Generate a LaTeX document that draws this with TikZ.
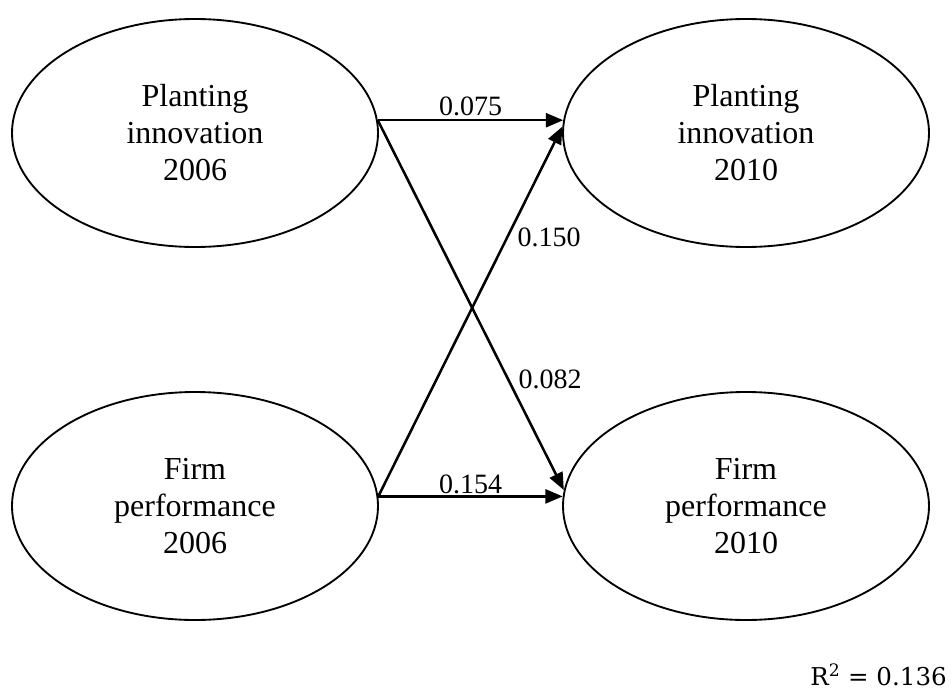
\documentclass[tikz,border=0pt]{standalone}
\usepackage{fontspec}
\setmainfont{Liberation Serif}
\newfontfamily\rsqfont{DejaVu Serif}
\usetikzlibrary{shapes.geometric,arrows.meta}

\begin{document}
\begin{tikzpicture}[x=0.75pt,y=-0.75pt,
    latent/.style={ellipse,draw,line width=1.4pt,minimum width=274.5pt,minimum height=171pt,
        inner sep=0pt,align=center,font=\fontsize{24}{27.75}\selectfont},
    effect/.style={line width=1.9pt,-{Triangle[length=13pt,width=10.5pt]}},
    coef/.style={font=\fontsize{21}{24}\selectfont,inner sep=2pt}]
    \useasboundingbox (0,0) rectangle (952,689);

    \node[latent] (pi06) at (195,133) {Planting\\innovation\\2006};
    \node[latent] (pi10) at (746,133) {Planting\\innovation\\2010};
    \node[latent] (fp06) at (195,506) {Firm\\performance\\2006};
    \node[latent] (fp10) at (746,506) {Firm\\performance\\2010};

    \coordinate (pi06out) at (pi06.4);
    \coordinate (fp06out) at (fp06.3);

    \draw[effect] (pi06out) -- node[coef,above] (c075) {0.075} (pi10.176);
    \draw[effect] (pi06out) -- node[coef,pos=0.7,right=5pt] (c082) {0.082} (fp10.175);
    \draw[effect] (fp06out) -- node[coef,pos=0.7,right=5pt] (c150) {0.150} (pi10.178);
    \draw[effect] (fp06out) -- node[coef,above,inner sep=1pt] (c154) {0.154} (fp10.177);

    \node[anchor=base east,inner sep=0pt,font=\rsqfont\fontsize{18.4}{22}\selectfont] (rsq) at (947,685) {R\textsuperscript{2} = 0.136};
\end{tikzpicture}
\end{document}
